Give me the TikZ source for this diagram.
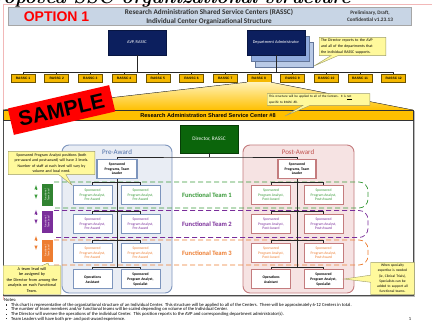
\documentclass[tikz,border=0pt]{standalone}
\usepackage{fontspec}
\setsansfont{Carlito}
\newfontfamily\arial{Liberation Sans}
\usetikzlibrary{shapes.callouts,calc}
\definecolor{navy}{HTML}{0C1F5E}
\definecolor{stackA}{HTML}{8FAADC}
\definecolor{stackB}{HTML}{B9CAE6}
\definecolor{gold}{HTML}{F5B800}
\definecolor{goldline}{HTML}{6B5200}
\definecolor{bandgold}{HTML}{FFC000}
\definecolor{wedgetop}{HTML}{FFF2B8}
\definecolor{callout}{HTML}{FFF99C}
\definecolor{calloutline}{HTML}{9C9C6A}
\definecolor{dirgreen}{HTML}{0B650B}
\definecolor{teamgreen}{HTML}{3A9A3A}
\definecolor{teampurple}{HTML}{7A2E9A}
\definecolor{teamorange}{HTML}{ED7D31}
\definecolor{prefill}{HTML}{E9EDF4}
\definecolor{preline}{HTML}{7D95BD}
\definecolor{pretext}{HTML}{4A6DA7}
\definecolor{postfill}{HTML}{F6E3E3}
\definecolor{postline}{HTML}{C47C7E}
\definecolor{posttext}{HTML}{C0504D}
\definecolor{titlebar}{HTML}{C8D5E5}
\definecolor{framepink}{HTML}{F2B8B8}
\begin{document}
\begin{tikzpicture}[x=1pt,y=-1pt,
  every node/.style={inner sep=0pt},
  navybox/.style={fill=navy, draw=navy!70!black, text=white, font=\sffamily\fontsize{4.3}{5}\selectfont, minimum width=58pt, minimum height=25pt},
  stackbox/.style={draw=stackA!70!black, line width=0.3pt, minimum width=58pt, minimum height=25pt},
  rassc/.style={fill=gold, draw=goldline, line width=0.5pt, font=\arial\bfseries\fontsize{3.3}{4}\selectfont, minimum width=24pt, minimum height=8pt},
  callbox/.style={rectangle callout, fill=callout, draw=calloutline, line width=0.4pt, inner sep=1.8pt, font=\sffamily\fontsize{3.9}{5.6}\selectfont},
  conn/.style={draw=black!85, line width=0.45pt},
  abox/.style={fill=white, line width=1pt, minimum width=39pt, minimum height=19pt, align=center, font=\sffamily\fontsize{3.7}{4.6}\selectfont},
  prebox/.style={abox, draw=preline},
  postbox/.style={abox, draw=postline},
  blk/.style={text=black, font=\sffamily\bfseries\fontsize{3.7}{4.6}\selectfont},
  teamline/.style={dash pattern=on 5pt off 3pt, line width=0.7pt, rounded corners=9pt},
  teamtext/.style={font=\sffamily\bfseries\fontsize{6.6}{7}\selectfont},
  leadlab/.style={rotate=90, text=white, minimum width=22pt, minimum height=11pt, align=center, font=\sffamily\fontsize{2.7}{3.1}\selectfont},
  leadarrow/.style={-{latex}, line width=0.5pt, shorten >=0pt},
  notetext/.style={anchor=west, font=\sffamily\fontsize{4.6}{5}\selectfont}
]
\useasboundingbox (0,0) rectangle (432,326);
% frame and page title
\draw[framepink, line width=0.6pt] (3,300) -- (3,4) -- (432,4);
\node[anchor=base west, font=\bfseries\itshape\fontsize{19}{19}\selectfont] (bigtitle) at (-20,3.5) {Proposed SSC organizational structure};
% title bar
\node[fill=titlebar, draw=gray!70, line width=0.5pt, minimum width=403pt, minimum height=18pt] (bar) at (209.5,16.5) {};
\node[font=\arial\bfseries\fontsize{14}{14}\selectfont, text=red] (opt) at (56.5,16.8) {OPTION 1};
\node[font=\sffamily\bfseries\fontsize{7.2}{9}\selectfont, align=center, text=black!80] (ttl) at (209,16.8) {Research Administration Shared Service Centers (RASSC)\\Individual Center Organizational Structure};
\node[font=\sffamily\bfseries\fontsize{5.2}{7}\selectfont, align=center, text=black!80] (draft) at (370,16.2) {Preliminary, Draft,\\Confidential v1.23.13};
% top executives
\node[navybox] (avp) at (137,42.5) {AVP, RASSC};
\node[stackbox, fill=stackB] (da2) at (284,54.5) {};
\node[stackbox, fill=stackA] (da1) at (280,48.5) {};
\node[navybox] (da) at (276,42.5) {Department Administrator};
% RASSC row
\foreach \i in {1,...,12} {
  \node[rassc] (r\i) at ({23+33.7*(\i-1)},78) {RASSC \i};
}
\coordinate (busL) at (23,72);
\coordinate (busR) at (394,72);
\draw[conn] (busL) -- (busR);
\draw[conn] (avp.south) -- (avp.south |- busL);
\draw[conn] (da.south) -- (da.south |- busL);
\foreach \i in {1,...,12} {
  \draw[conn] (r\i.north) -- (r\i.north |- busL);
}
\node[callbox, callout absolute pointer={(314,66)}, text width=63pt, align=left] (cdir) at (352.5,46.5) {The Director reports to the AVP\\and all of the departments that\\the individual RASSC supports.};
% wedge, band, content area
\fill[top color=wedgetop, bottom color=bandgold] (r8.south west) -- (r8.south east) -- (413,110) -- (3,110) -- cycle;
\draw[gray!55!black, line width=0.4pt] (r8.south west) -- (3,110);
\draw[gray!55!black, line width=0.4pt] (r8.south east) -- (413,110);
\node[fill=white, draw=black!70, line width=0.6pt, minimum width=410pt, minimum height=176pt] (content) at (208,207.5) {};
\draw[gray!55, line width=1.2pt] (414.6,111) -- (414.6,296.2) -- (4,296.2);
\node[fill=bandgold, draw=black!80, line width=0.6pt, minimum width=410pt, minimum height=10pt, font=\arial\bfseries\fontsize{5.6}{6}\selectfont] (band) at (208,115) {Research Administration Shared Service Center \#8};
\node[fill=red, rotate=13, minimum width=104pt, minimum height=27pt, font=\arial\bfseries\fontsize{21}{21}\selectfont] (sample) at (61.5,110) {SAMPLE};
\node[callbox, callout absolute pointer={(285,116)}, text width=99pt, align=left, font=\sffamily\fontsize{3.3}{5.4}\selectfont] (c8) at (318.5,99.5) {This structure will be applied to all of the Centers.\ \ It is \underline{not}\\specific to RASSC \#8.};
% director
\node[fill=dirgreen, draw=dirgreen!60!black, text=white, minimum width=58pt, minimum height=28pt, font=\sffamily\fontsize{5.3}{6}\selectfont] (dir) at (209,139) {Director, RASSC};
% groups
\node[fill=prefill, draw=preline, line width=0.9pt, rounded corners=7pt, minimum width=110pt, minimum height=148pt] (pre) at (117,219) {};
\node[fill=postfill, draw=postline, line width=0.9pt, rounded corners=7pt, minimum width=111pt, minimum height=148pt] (post) at (298.5,219) {};
\node[font=\sffamily\fontsize{7}{8}\selectfont, text=pretext] (pretitle) at (117,152.5) {Pre-Award};
\node[font=\sffamily\fontsize{7}{8}\selectfont, text=posttext] (posttitle) at (298,152.5) {Post-Award};
% functional team bands
\draw[teamline, teamgreen] (54,182) -- (368,182) -- (368,208) -- (54,208);
\draw[teamline, teampurple] (54,210.5) -- (368,210.5) -- (368,237.5) -- (54,237.5);
\draw[teamline, teamorange] (54,240) -- (368,240) -- (368,265) -- (54,265);
\node[teamtext, text=teamgreen] (ft1) at (207,195) {Functional Team 1};
\node[teamtext, text=teampurple] (ft2) at (207,224) {Functional Team 2};
\node[teamtext, text=teamorange] (ft3) at (207,253) {Functional Team 3};
% team lead labels
\node[leadlab, fill=teamgreen!85!black] (tl1) at (47,195) {Functional\\Team Lead};
\node[leadlab, fill=teampurple] (tl2) at (47,222) {Functional\\Team Lead};
\node[leadlab, fill=teamorange] (tl3) at (47,251) {Functional\\Team Lead};
\foreach \c/\y in {teamgreen/185, teampurple/210, teamorange/236} {
  \draw[leadarrow, \c] (36,\y+4) -- (36,\y);
  \draw[leadarrow, \c] (36,\y+10) -- (36,\y+14);
}
% leaders
\node[prebox, blk, line width=1.3pt, minimum width=40pt] (preLead) at (117,169) {Sponsored\\Programs, Team\\Leader};
\node[postbox, blk, line width=1.3pt, minimum width=38pt] (postLead) at (297,169) {Sponsored\\Programs, Team\\Leader};
\coordinate (dj) at (209,157);
\draw[conn] (dir.south) -- (dj);
\draw[conn] (preLead.north) |- (dj) -| (postLead.north);
% spines
\coordinate (preEnd) at (117,267.5);
\coordinate (postEnd) at (297,267.5);
\draw[conn] (preLead.south) -- (preEnd);
\draw[conn] (postLead.south) -- (postEnd);
% analyst boxes
\foreach \r/\y/\col in {1/195/teamgreen, 2/224/teampurple, 3/253/teamorange} {
  \node[prebox, text=\col] (pa\r l) at (92.5,\y) {Sponsored\\Program Analyst,\\Pre-Award};
  \node[prebox, text=\col] (pa\r r) at (140.5,\y) {Sponsored\\Program Analyst,\\Pre-Award};
  \node[postbox, text=\col] (qa\r l) at (271,\y) {Sponsored\\Program Analyst,\\Post-Award};
  \node[postbox, text=\col] (qa\r r) at (323.5,\y) {Sponsored\\Program Analyst,\\Post-Award};
  \coordinate (pb\r) at (117,\y-12.5);
  \coordinate (qb\r) at (297,\y-12.5);
  \draw[conn] (pa\r l.north) |- (pb\r) -| (pa\r r.north);
  \draw[conn] (qa\r l.north) |- (qb\r) -| (qa\r r.north);
}
\node[prebox, blk] (pops) at (92.5,279.5) {Operations\\Assistant};
\node[prebox, blk] (pspec) at (140.5,279.5) {Sponsored\\Program Analyst,\\Specialist};
\node[postbox, blk] (qops) at (271,279.5) {Operations\\Assistant};
\node[postbox, blk] (qspec) at (323.5,279.5) {Sponsored\\Program Analyst,\\Specialist};
\draw[conn] (pops.north) |- (preEnd) -| (pspec.north);
\draw[conn] (qops.north) |- (postEnd) -| (qspec.north);
% callouts
\node[callbox, callout absolute pointer={(72,185)}, text width=83pt, align=center] (cpos) at (51.5,163) {Sponsored Program Analyst positions (both\\pre-award and post-award) will have 3 levels.\\Number of staff at each level will vary by\\volume and local need.};
\node[callbox, callout absolute pointer={(48,263)}, text width=54pt, align=center, font=\sffamily\fontsize{4.2}{5.5}\selectfont] (clead) at (32,280) {A team lead will be assigned by\\the Director from among the\\analysts on each Functional\\Team.};
\node[callbox, callout absolute pointer={(344,279)}, text width=40pt, align=center, font=\sffamily\fontsize{3.6}{5.2}\selectfont] (cspec) at (392.5,278.5) {When specialty\\expertise is needed\\(ie, Clinical Trials),\\Specialists can be\\added to support all\\functional teams.};
% notes
\node[notetext] (notes) at (4,300.5) {Notes:};
\node[notetext] (n1) at (11,305) {This chart is representative of the organizational structure of an Individual Center.\ \ This structure will be applied to all of the Centers.\ \ There will be approximately 6-12 Centers in total.};
\node[notetext] (n2) at (11,309.6) {The number of team members and/or functional teams will be scaled depending on volume of the Individual Center.};
\node[notetext] (n3) at (11,314.2) {The Director will oversee the operations of the individual Center.\ \ This position reports to the AVP and corresponding department administrator(s).};
\node[notetext] (n4) at (11,318.8) {Team Leaders will have both pre- and post-award experience.};
\foreach \y in {305,309.6,314.2,318.8} {
  \fill[black!80] (5.6,\y-0.6) rectangle (6.8,\y+0.6);
}
\node[font=\sffamily\fontsize{4.5}{5}\selectfont] (pg) at (410,319) {1};
\end{tikzpicture}
\end{document}
